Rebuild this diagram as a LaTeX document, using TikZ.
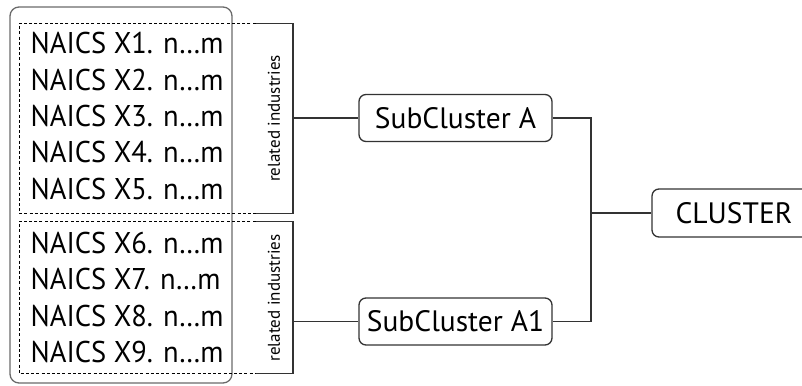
\documentclass[tikz,border=0pt]{standalone}
\usepackage{fontspec}
\setmainfont{PT Sans}
\newfontfamily\listfont[FakeStretch=0.95]{PT Sans}
\usetikzlibrary{positioning,calc}

\definecolor{linegray}{HTML}{333333}
\definecolor{panelgray}{HTML}{6A6A6A}

\begin{document}
\begin{tikzpicture}[
    x=1pt, y=-1pt,
    line width=1.3pt,
    naics/.style={anchor=west, inner sep=0pt, font=\listfont\fontsize{30}{32}\selectfont},
    groupbox/.style={inner sep=0pt},
    dashline/.style={draw=black, line width=1.1pt, dash pattern=on 3pt off 2.2pt},
    bracket/.style={draw=linegray},
    relind/.style={rotate=90, inner sep=0pt, font=\fontsize{17}{18}\selectfont},
    subbox/.style={draw=linegray, rounded corners=7pt, minimum width=193pt, minimum height=47pt, inner sep=0pt, font=\fontsize{29.5}{31}\selectfont},
    panel/.style={draw=panelgray, rounded corners=9pt, inner sep=0pt},
]
\useasboundingbox (0,0) rectangle (802,385);
\clip (0,0) rectangle (802,385);

% outer panel round the industry list
\node[panel, minimum width=222pt, minimum height=376pt] (panel) at (121,195) {};

% industry groups
\node[groupbox, minimum width=235pt, minimum height=189pt] (grpA) at (137.5,118.5) {};
\node[groupbox, minimum width=235pt, minimum height=151pt] (grpB) at (137.5,297.5) {};

\foreach \i/\y in {1/43,2/80,3/116,4/152,5/189,6/243,7/279,8/316,9/352}
    \node[naics] (x\i) at (30,\y) {NAICS X\i. n…m};

% dashed outline, open on the right
\draw[dashline] (grpA.north east) -- (grpA.north west) -- (grpA.south west) -- (grpA.south east);
\draw[dashline] (grpB.north east) -- (grpB.north west) -- (grpB.south west) -- (grpB.south east);

% brackets
\coordinate (brkA) at (293,118);
\coordinate (brkB) at (293,321);
\draw[bracket] (grpA.north east) -| (brkA) |- (grpA.south east);
\draw[bracket] (grpB.north east) -| (brkB) |- (grpB.south east);

\node[relind] (relA) at (274,118.5) {related industries};
\node[relind] (relB) at (274,298) {related industries};

% sub clusters
\node[subbox] (subA) at (455.5,118) {SubCluster A};
\node[subbox] (subA1) at (455.5,321.5) {SubCluster A1};

\draw[bracket] (brkA) -- (subA.west);
\draw[bracket] (brkB |- subA1.west) -- (subA1.west);

% cluster
\coordinate (junc) at (591,213);
\node[subbox, minimum width=164pt, minimum height=48pt] (cluster) at (734,213) {CLUSTER};

\draw[bracket] (subA.east) -| (junc) |- (subA1.east);
\draw[bracket] (junc) -- (cluster.west);

\end{tikzpicture}
\end{document}
